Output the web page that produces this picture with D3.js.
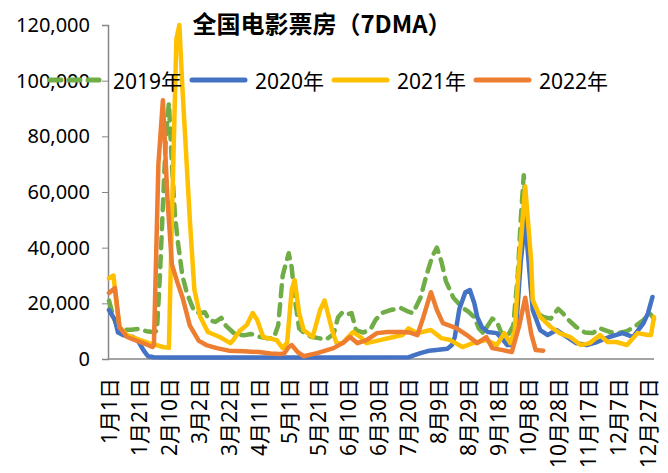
<!DOCTYPE html>
<html>
<head>
<meta charset="utf-8">
<script src="https://cdn.jsdelivr.net/npm/d3@7"></script>
<style>
  body { margin: 0; background: #fff; }
  text { font-family: "Noto Sans", "Noto Sans CJK SC", sans-serif; fill: #000; }
  .axis path, .axis line { stroke: #868686; }
</style>
</head>
<body>
<div id="chart"></div>
<script>
var width = 668,
  height = 473;

// x axis labels, one every 20 days
var labelDays = [0, 20, 40, 60, 80, 100, 120, 140, 160, 180, 200, 220, 240, 260, 280, 300, 320, 340, 360];
var labelText = ["1月1日", "1月21日", "2月10日", "3月2日", "3月22日", "4月11日", "5月1日", "5月21日",
  "6月10日", "6月30日", "7月20日", "8月9日", "8月29日", "9月18日", "10月8日", "10月28日",
  "11月17日", "12月7日", "12月27日"];
var yTicks = [0, 20000, 40000, 60000, 80000, 100000, 120000];

var seriesNames = ["2019年", "2020年", "2021年", "2022年"];
var seriesColors = ["#70AD47", "#4472C4", "#FFC000", "#ED7D31"];

// [day of year, box office 7DMA]
var data2019 = [[0, 21000], [3, 15000], [6, 11000], [10, 10500], [15, 10500], [20, 10800], [25, 10000],
  [29, 9700], [32, 10000], [34, 30000], [36, 55000], [38, 80000], [40, 92000], [42, 70000], [44, 52000],
  [46, 42000], [49, 30000], [52, 23700], [57, 17000], [61, 16500], [64, 16800], [67, 14000], [71, 13300],
  [75, 14800], [78, 12000], [84, 9000], [90, 8500], [95, 9000], [100, 8000], [105, 7500], [110, 7500],
  [113, 12000], [116, 30000], [119, 36000], [120, 38000], [122, 33000], [124, 22000], [127, 11000],
  [130, 9500], [135, 8000], [140, 7500], [145, 7000], [150, 9000], [153, 15000], [156, 16800], [159, 16000],
  [162, 16500], [165, 10400], [170, 9500], [175, 11000], [178, 14000], [182, 16500], [188, 17600],
  [195, 18300], [200, 17000], [203, 16500], [208, 22000], [212, 30000], [216, 37000], [219, 40000],
  [222, 35000], [225, 28000], [230, 22000], [236, 18500], [240, 17000], [244, 15000], [247, 11000],
  [250, 9300], [253, 12000], [256, 14500], [259, 13500], [262, 9500], [266, 8000], [270, 12000],
  [273, 30000], [275, 50000], [277, 66000], [279, 50000], [282, 25000], [284, 17600], [290, 15100],
  [295, 14500], [300, 18000], [303, 16500], [307, 14000], [312, 11500], [318, 9500], [323, 9300],
  [328, 11000], [334, 9800], [340, 9300], [346, 10000], [352, 12000], [357, 14000], [361, 16500], [364, 14500]];

var data2020 = [[0, 17600], [4, 14000], [6, 9500], [10, 8500], [16, 7900], [20, 6000], [23, 3200],
  [26, 1000], [30, 600], [40, 500], [80, 500], [120, 500], [160, 500], [200, 600], [203, 1200],
  [208, 2100], [214, 3000], [220, 3300], [226, 3700], [229, 5000], [231, 8000], [234, 18000],
  [238, 24000], [241, 24800], [244, 20000], [246, 15000], [249, 11500], [253, 9700], [259, 9300],
  [263, 7000], [266, 5000], [269, 5000], [272, 12000], [275, 35000], [278, 50000], [281, 30000],
  [283, 17600], [288, 10400], [293, 8600], [299, 10400], [306, 7900], [312, 5700], [319, 5000],
  [326, 6100], [334, 7900], [343, 9300], [350, 7900], [357, 12900], [360, 16500], [363, 22300]];

var data2021 = [[0, 29000], [3, 30000], [5, 20000], [7, 11500], [12, 8600], [21, 6800], [27, 5700],
  [36, 4300], [40, 4000], [42, 50000], [45, 115000], [47, 120000], [49, 97700], [54, 50000], [57, 25000],
  [61, 15100], [66, 9700], [74, 7900], [81, 5700], [83, 6800], [87, 10000], [92, 12200], [96, 16500],
  [99, 14000], [103, 7900], [112, 6800], [116, 3900], [119, 6000], [122, 24800], [124, 28400],
  [127, 16500], [130, 10400], [136, 7900], [141, 17600], [144, 21000], [149, 10400], [152, 5700],
  [156, 5700], [163, 9700], [168, 7900], [172, 5700], [181, 6800], [190, 7900], [196, 8600],
  [200, 11000], [206, 9300], [215, 10400], [222, 7500], [228, 6800], [236, 4300], [243, 5700],
  [252, 6800], [259, 5000], [264, 9300], [268, 5700], [271, 10000], [274, 35000], [278, 62000],
  [282, 35000], [283, 21200], [288, 15100], [295, 11500], [301, 9300], [308, 7900], [315, 5000],
  [321, 5700], [328, 8600], [333, 6100], [339, 6100], [346, 5000], [353, 9300], [360, 8600],
  [362, 8600], [364, 15100]];

var data2022 = [[0, 23700], [4, 25500], [7, 11500], [12, 7900], [21, 6100], [29, 4300], [30, 5000],
  [33, 70000], [36, 93000], [39, 58000], [42, 34000], [46, 27000], [49, 22300], [54, 12000], [60, 6500],
  [65, 5000], [72, 3900], [80, 3000], [90, 2800], [100, 2500], [108, 2000], [114, 1800], [117, 2000],
  [120, 4300], [122, 5000], [126, 2500], [130, 1000], [139, 2100], [150, 3900], [156, 5700], [161, 7900],
  [166, 5700], [172, 6800], [179, 9300], [186, 9700], [195, 9700], [201, 9500], [206, 8600],
  [210, 15100], [215, 24000], [219, 17600], [223, 12900], [232, 11100], [239, 8600], [246, 5700],
  [252, 7900], [256, 3900], [263, 3200], [269, 2500], [274, 12000], [278, 22000], [282, 9000],
  [285, 3200], [290, 3000]];

var allSeries = [data2019, data2020, data2021, data2022];

var svg = d3.select("#chart").append("svg")
  .attr("width", width)
  .attr("height", height);

var x = d3.scaleLinear().domain([0, 364]).range([109, 654]);
var y = d3.scaleLinear().domain([0, 120000]).range([359, 25]);

// y axis
var yAxis = svg.append("g")
  .attr("class", "axis")
  .attr("transform", "translate(108,0)")
  .call(d3.axisLeft(y).tickValues(yTicks).tickFormat(d3.format(",")).tickSize(6).tickPadding(12));
yAxis.select(".domain").attr("stroke-width", 1.5);
yAxis.selectAll("text").style("font-size", "20px");

// x axis, labels rotated
var xAxis = svg.append("g")
  .attr("class", "axis")
  .attr("transform", "translate(0,359)")
  .call(d3.axisBottom(x).tickValues(labelDays).tickFormat(function(d, i) { return labelText[i]; }).tickSize(0));
xAxis.select(".domain").attr("d", "M108,0H654").attr("stroke-width", 1.5);
xAxis.selectAll("text")
  .style("font-size", "21px")
  .attr("text-anchor", "end")
  .attr("transform", "rotate(-90)")
  .attr("x", -19)
  .attr("y", 0)
  .attr("dy", "0.35em");

var line = d3.line()
  .x(function(d) { return x(d[0]); })
  .y(function(d) { return y(d[1]); });

allSeries.forEach(function(s, i) {
  svg.append("path")
    .datum(s)
    .attr("fill", "none")
    .attr("stroke", seriesColors[i])
    .attr("stroke-width", 4.5)
    .attr("stroke-linejoin", "round")
    .attr("stroke-linecap", "round")
    .attr("stroke-dasharray", i == 0 ? "11,8" : null)
    .attr("d", line);
});

// title
svg.append("text")
  .attr("x", 322)
  .attr("y", 33)
  .attr("text-anchor", "middle")
  .style("font-family", "'Noto Sans CJK SC', sans-serif")
  .style("font-size", "24px")
  .style("font-weight", "bold")
  .text("全国电影票房（7DMA）");

// legend
var legend = svg.selectAll(".legend")
  .data(seriesNames)
  .enter().append("g")
  .attr("class", "legend")
  .attr("transform", function(d, i) { return "translate(" + (48 + i * 142) + ",80)"; });

legend.append("line")
  .attr("x1", 2).attr("x2", 55)
  .attr("stroke", function(d, i) { return seriesColors[i]; })
  .attr("stroke-width", 5)
  .attr("stroke-linecap", "round")
  .attr("stroke-dasharray", function(d, i) { return i == 0 ? "11,8" : null; });

legend.append("text")
  .attr("x", 65)
  .attr("y", 9)
  .style("font-size", "21px")
  .text(function(d) { return d; });
</script>
</body>
</html>
